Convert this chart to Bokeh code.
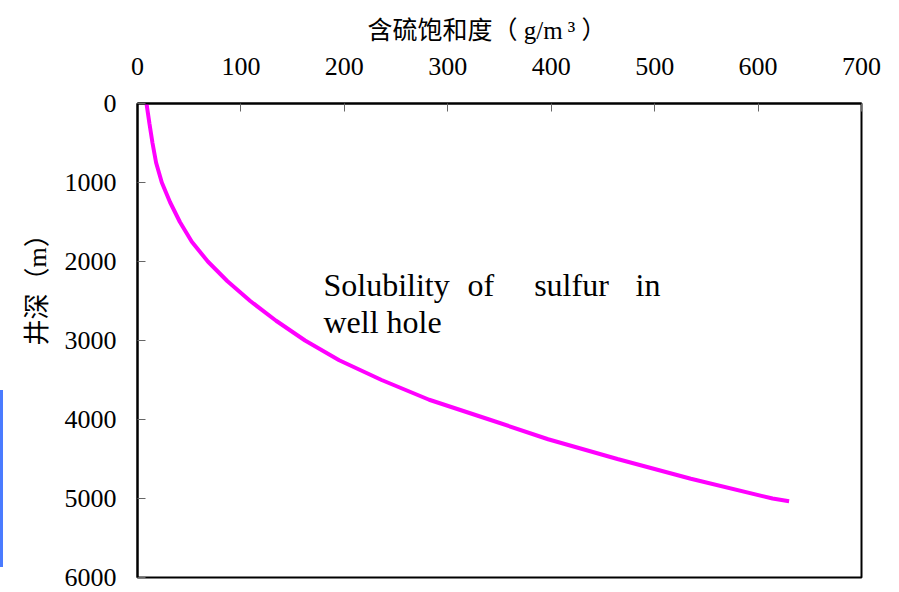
from bokeh.plotting import figure
from bokeh.models import Range1d, FixedTicker, Title
from bokeh.core.properties import value
from bokeh.embed import file_html
from bokeh.resources import INLINE

# --- data ---
depth_m = [0, 250, 500, 750, 1000, 1250, 1500, 1750, 2000, 2250, 2500,
           2750, 3000, 3250, 3500, 3750, 4000, 4250, 4500, 4750, 5000, 5035]
sulfur_g_m3 = [8.7, 11.5, 14.5, 18.0, 23.5, 31.5, 41.0, 52.5, 68.0, 87.0,
               109.0, 134.0, 162.0, 195.0, 236.0, 282.0, 340.0, 397.0,
               464.0, 535.0, 614.0, 630.0]
x_ticks = [0, 100, 200, 300, 400, 500, 600, 700]
y_ticks = [0, 1000, 2000, 3000, 4000, 5000, 6000]
x_title = "含硫饱和度（ g/m\u2009³ ）"
y_title = "井深（m）"
note_line1 = ["Solubility", "of", "sulfur", "in"]
note_line1_x = [179.8, 319.0, 383.5, 481.5]
note_line2 = ["well hole"]
note_line2_x = [179.8]
note_y = [2300, 2760]

SERIF = "Liberation Serif"
MIXED = "Liberation Serif, 'Noto Sans CJK SC'"

W, H = 895, 592
FL, FT, FR, FB = 137, 103, 861, 577   # frame edges on the page
p = figure(width=W, height=H, output_backend="svg", toolbar_location=None,
           x_range=Range1d(0, 700), y_range=Range1d(6000, 0),
           x_axis_location="above",
           title=x_title, title_location="above",
           min_border_left=FL, min_border_top=FT,
           min_border_right=W - FR, min_border_bottom=H - FB)
p.background_fill_color = "white"
p.border_fill_color = None
p.styles = {
    "background-color": "white",
    "background-image": "linear-gradient(#4a7bff, #4a7bff)",
    "background-size": "3px 177px",
    "background-position": "0px 390px",
    "background-repeat": "no-repeat",
}
p.grid.visible = False
p.outline_line_color = "black"
p.outline_line_width = 2

p.title.text_font = MIXED
p.title.text_font_size = "25px"
p.title.text_font_style = "normal"
p.title.text_color = "black"
p.title.align = "left"
p.title.offset = 230
p.title.standoff = 22

for ax in (p.xaxis[0], p.yaxis[0]):
    ax.axis_line_color = "black"
    ax.axis_line_width = 2
    ax.major_tick_in = 8
    ax.major_tick_out = 0
    ax.major_tick_line_color = "#666666"
    ax.major_tick_line_width = 1
    ax.minor_tick_line_color = None
    ax.major_label_text_font = SERIF
    ax.major_label_text_font_size = "26px"
    ax.major_label_text_color = "black"

p.xaxis[0].ticker = FixedTicker(ticks=x_ticks)
p.yaxis[0].ticker = FixedTicker(ticks=y_ticks)
p.xaxis[0].major_label_standoff = 29
p.yaxis[0].major_label_standoff = 21

ytitle = Title(text=y_title, text_font=MIXED, text_font_size="26px",
               text_font_style="normal", text_color="black",
               align="left", offset=232, standoff=19)
p.add_layout(ytitle, "left")

p.line(sulfur_g_m3, depth_m, line_color="#FF00FF", line_width=4)

p.text(x=note_line1_x, y=[note_y[0]] * len(note_line1), text=note_line1,
       text_font=value(SERIF), text_font_size="32px", text_color="black",
       text_align="left", text_baseline="alphabetic")
p.text(x=note_line2_x, y=[note_y[1]], text=note_line2,
       text_font=value(SERIF), text_font_size="32px", text_color="black",
       text_align="left", text_baseline="alphabetic")

open("out.html", "w").write(file_html(p, INLINE))
